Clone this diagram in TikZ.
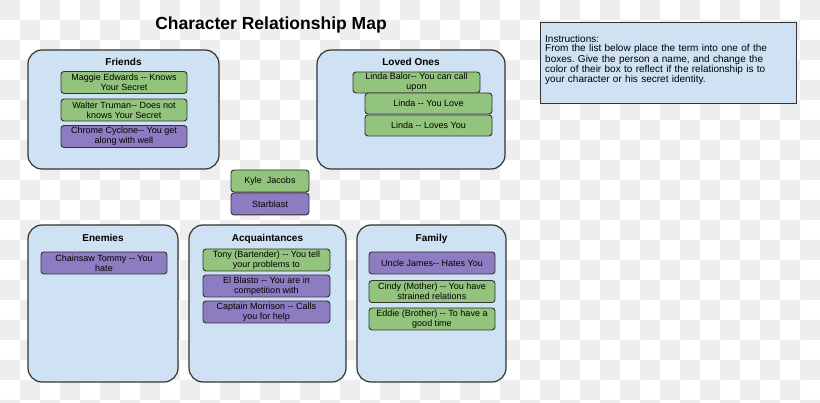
\documentclass[tikz,border=0pt]{standalone}
\usepackage{fontspec}
\setmainfont{Liberation Sans}
\usepackage{xcolor}
\usetikzlibrary{positioning}
\definecolor{PaleBlue}{HTML}{CFE2F3}
\definecolor{LeafGreen}{HTML}{93C47D}
\definecolor{Lilac}{HTML}{8E7CC3}
\definecolor{EdgeGray}{HTML}{333333}
\definecolor{Checker}{HTML}{EEEEEE}
\newcommand{\twohyph}{-\kern0pt-}
\frenchspacing

\begin{document}
\begin{tikzpicture}[x=1pt,y=-1pt,
  groupbox/.style={rectangle,draw=EdgeGray,fill=PaleBlue,rounded corners=14pt,
    line width=1.2pt,inner sep=0pt},
  hdr/.style={font=\fontsize{10}{12}\selectfont\bfseries,inner sep=0pt,
    text height=7.2pt,text depth=0pt},
  item/.style={rectangle,draw=EdgeGray,rounded corners=3pt,line width=0.9pt,
    minimum width=126pt,minimum height=22pt,inner sep=0pt,align=center,
    font=\fontsize{9}{10}\selectfont},
  gitem/.style={item,fill=LeafGreen},
  pitem/.style={item,fill=Lilac}
]
\useasboundingbox (0,0) rectangle (820,403);
% checkered backdrop
\begin{scope}
\clip (0,0) rectangle (820,403);
\foreach \i in {0,2,...,40}
  \foreach \j in {0,2,...,20}
    \fill[Checker] (\i*20,\j*20) rectangle ++(20,20) (\i*20+20,\j*20+20) rectangle ++(20,20);
\end{scope}

\node[font=\fontsize{17.5}{20}\selectfont\bfseries,inner sep=0pt] (title) at (271,24.5) {Character Relationship Map};

\node[rectangle,draw=EdgeGray,fill=PaleBlue,line width=1pt,minimum width=256pt,
  minimum height=81pt] (instr) at (668,63.5) {};
\node[anchor=north west,inner sep=0pt,text width=250pt,align=left,
  font=\fontsize{10}{9.25}\selectfont] (instrT) at (545,35)
  {Instructions:\\From the list below place the term into one of the\\boxes. Give the person a name, and change the\\color of their box to reflect if the relationship is to\\your character or his secret identity.};

\node[groupbox,minimum width=191pt,minimum height=119pt] (fr) at (123.5,109.5) {};
\node[groupbox,minimum width=188pt,minimum height=119pt] (lo) at (411,109.5) {};
\node[groupbox,minimum width=150pt,minimum height=157pt] (en) at (103,303.5) {};
\node[groupbox,minimum width=157pt,minimum height=157pt] (ac) at (267.5,303.5) {};
\node[groupbox,minimum width=149pt,minimum height=157pt] (fa) at (431.5,303.5) {};

\node[hdr] (frT) at ([yshift=-13pt]fr.north) {Friends};
\node[hdr] (loT) at ([yshift=-13pt]lo.north) {Loved Ones};
\node[hdr] (enT) at ([yshift=-14pt]en.north) {Enemies};
\node[hdr] (acT) at ([yshift=-14pt]ac.north) {Acquaintances};
\node[hdr] (faT) at ([yshift=-14pt]fa.north) {Family};

\node[gitem] (fr1) at (124,82.5) {Maggie Edwards \twohyph{} Knows\\Your Secret};
\node[gitem] (fr2) at (124,110) {Walter Truman\twohyph{} Does not\\knows Your Secret};
\node[pitem] (fr3) at (124,136.5) {Chrome Cyclone\twohyph{} You get\\along with well};

\node[gitem,minimum width=127pt,minimum height=21pt] (lo1) at (416.5,82.5) {Linda Balor\twohyph{} You can call\\upon};
\node[gitem,minimum width=127pt,minimum height=21pt] (lo2) at (428.5,103.5) {Linda \twohyph{} You Love};
\node[gitem,minimum width=127pt,minimum height=21pt] (lo3) at (428.5,125.5) {Linda \twohyph{} Loves You};

\node[gitem,minimum width=78pt] (kyle) at (270,181) {Kyle\ \ Jacobs};
\node[pitem,minimum width=78pt,below=0pt of kyle] (star) {Starblast};

\node[pitem] (en1) at (104,263) {Chainsaw Tommy \twohyph{} You\\hate};

\node[gitem,minimum width=127pt] (ac1) at (266.5,260) {Tony (Bartender) \twohyph{} You tell\\your problems to};
\node[pitem,minimum width=127pt] (ac2) at (266.5,286) {El Blasto \twohyph{} You are in\\competition with};
\node[pitem,minimum width=127pt] (ac3) at (266.5,312) {Captain Morrison \twohyph{} Calls\\you for help};

\node[pitem] (fa1) at (432,263) {Uncle James\twohyph{} Hates You};
\node[gitem] (fa2) at (432,291.5) {Cindy (Mother) \twohyph{} You have\\strained relations};
\node[gitem] (fa3) at (432,319) {Eddie (Brother) \twohyph{} To have a\\good time};
\end{tikzpicture}
\end{document}
